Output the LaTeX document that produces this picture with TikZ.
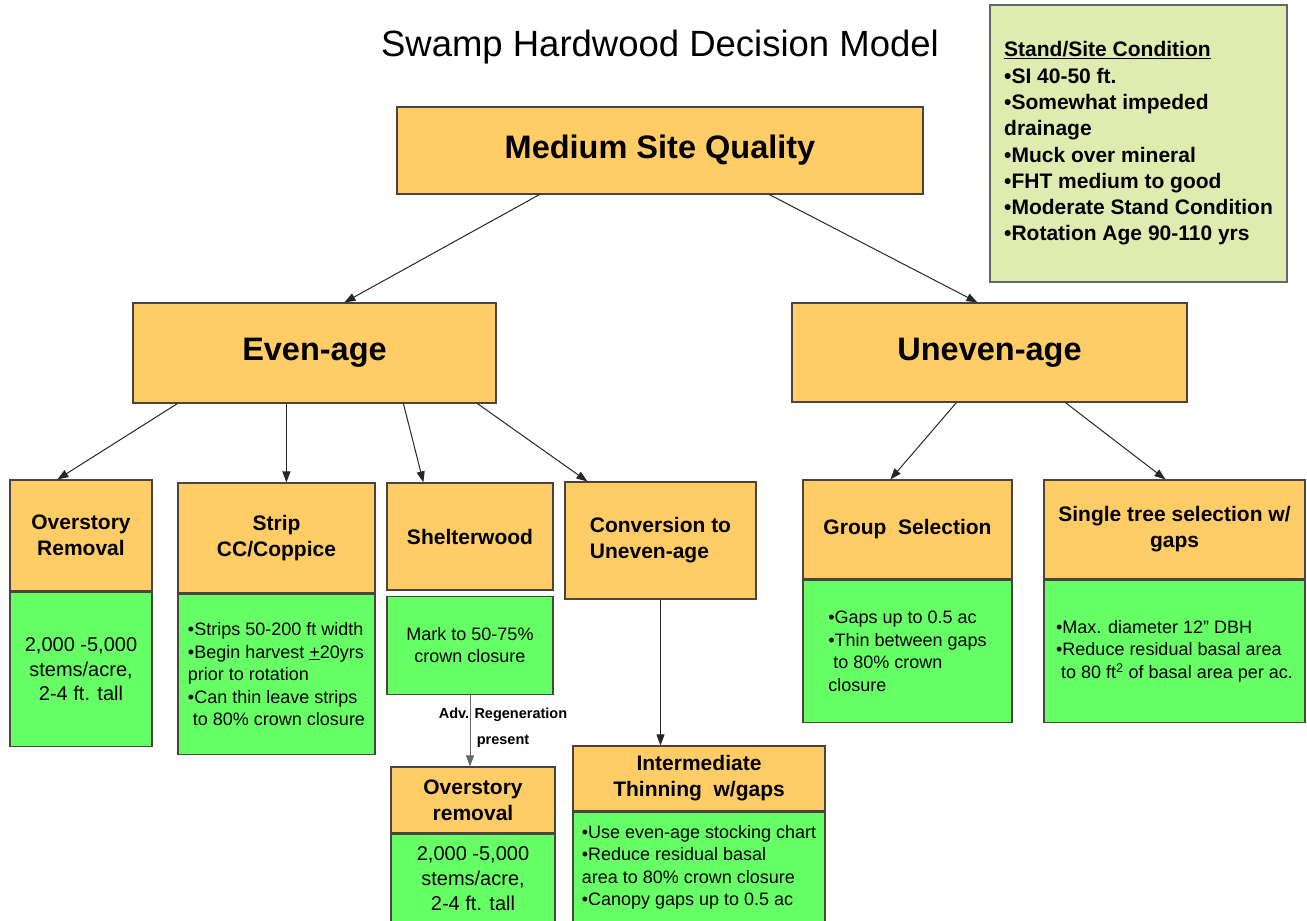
\documentclass[tikz,border=0pt]{standalone}
\usepackage{fontspec}
\setmainfont{Liberation Sans}
\usepackage{xcolor}
\usepackage{tikz}
\usetikzlibrary{arrows.meta}
\definecolor{boxorange}{HTML}{FFCC66}
\definecolor{boxgreen}{HTML}{66FF66}
\definecolor{boxpale}{HTML}{E0EBAF}
\definecolor{boxline}{HTML}{4A4440}

\begin{document}
\begin{tikzpicture}[x=1pt, y=-1pt,
        hdr/.style={draw=boxline, line width=1.2pt, fill=boxorange, inner sep=4pt, align=center,
            font=\bfseries\fontsize{21}{26}\selectfont},
        big/.style={hdr, font=\bfseries\fontsize{32.5}{38}\selectfont},
        note/.style={draw=boxline, line width=1.2pt, fill=boxgreen, inner sep=4pt, align=left,
            anchor=north, font=\fontsize{18}{22.5}\selectfont},
        arr/.style={-{Triangle[length=11pt, width=8pt]}, line width=1pt, black!85}]
            \useasboundingbox (0,0) rectangle (1307,921);
            \node[font=\fontsize{36.5}{40}\selectfont] (title) at (660,47) {Swamp Hardwood Decision Model};
            \node[draw=black!60, line width=1.2pt, fill=boxpale, minimum width=297, minimum height=277,
                align=left, font=\bfseries\fontsize{21}{26.3}\selectfont] (stand) at (1138.5,143.5)
                {\underline{Stand/Site Condition}\\ •SI 40-50 ft.\\ •Somewhat impeded\\ drainage\\
                 •Muck over mineral\\ •FHT medium to good\\ •Moderate Stand Condition\\ •Rotation Age 90-110 yrs};
            \node[big, minimum width=526, minimum height=87] (msq) at (660,150.5) {Medium Site Quality};
            \node[big, minimum width=363, minimum height=100] (even) at (314.5,353) {Even-age};
            \node[big, minimum width=395, minimum height=99] (uneven) at (989.5,352.5) {Uneven-age};

            \node[hdr, minimum width=142, minimum height=111] (ovr) at (81,535.5) {Overstory\\Removal};
            \node[note, minimum width=142, minimum height=154, align=center, font=\fontsize{20}{24.5}\selectfont]
                (ovrN) at (ovr.south) {2,000 -5,000\\stems/acre,\\ 2-4 ft. tall};
            \node[hdr, minimum width=197, minimum height=110] (strip) at (276.5,538) {Strip\\CC/Coppice};
            \node[note, minimum width=197, minimum height=160] (stripN) at (strip.south)
                {•Strips 50-200 ft width\\ •Begin harvest \underline{+}20yrs\\ prior to rotation\\
                 •Can thin leave strips\\ \ to 80\% crown closure};
            \node[hdr, minimum width=166, minimum height=107] (shelter) at (470,536.5) {Shelterwood};
            \node[note, minimum width=166, minimum height=98, align=center] (shelterN) at ([yshift=-5]shelter.south)
                {Mark to 50-75\%\\ crown closure};
            \node[hdr, minimum width=191, minimum height=117, align=left] (conv) at (660.5,540.5) {Conversion to\\Uneven-age};
            \node[hdr, minimum width=209, minimum height=99] (group) at (907.5,529.5) {Group~ Selection};
            \node[note, minimum width=209, minimum height=142] (groupN) at (group.south)
                {•Gaps up to 0.5 ac\\ •Thin between gaps\\ \ to 80\% crown\\ closure};
            \node[hdr, minimum width=261, minimum height=99] (single) at (1174.5,529.5) {Single tree selection w/\\gaps};
            \node[note, minimum width=261, minimum height=142] (singleN) at (single.south)
                {•Max. diameter 12'' DBH\\ •Reduce residual basal area\\ \ to 80 ft\textsuperscript{2} of basal area per ac.};

            \node[hdr, minimum width=164, minimum height=66] (ovr2) at (473,800) {Overstory\\removal};
            \node[note, minimum width=164, minimum height=88, align=center, font=\fontsize{20}{25}\selectfont]
                (ovr2N) at (ovr2.south) {2,000 -5,000\\stems/acre,\\ 2-4 ft. tall};
            \node[hdr, minimum width=252, minimum height=65] (thin) at (699,778.5) {Intermediate\\Thinning~ w/gaps};
            \node[note, minimum width=252, minimum height=110] (thinN) at (thin.south)
                {•Use even-age stocking chart\\ •Reduce residual basal\\ area to 80\% crown closure\\
                 •Canopy gaps up to 0.5 ac};

            \draw[arr] ([xshift=143]msq.south west) -- ([xshift=212]even.north west);
            \draw[arr] ([xshift=373]msq.south west) -- ([xshift=186]uneven.north west);
            \foreach \a/\t/\b in {45/ovr/48, 154/strip/109, 271/shelter/37, 345/conv/23} {
                \draw[arr] ([xshift=\a]even.south west) -- ([xshift=\b]\t.north west);
            }
            \foreach \a/\t/\b in {165/group/88, 274/single/122} {
                \draw[arr] ([xshift=\a]uneven.south west) -- ([xshift=\b]\t.north west);
            }
            \draw[arr] (conv.south) -- (conv.south |- thin.north);
            \draw[arr, black!60] (shelterN.south) -- (shelterN.south |- ovr2.north)
                node[pos=0.46, xshift=33, align=center, black, font=\bfseries\fontsize{14.5}{26}\selectfont] (regen)
                {Adv. Regeneration\\present};
        \end{tikzpicture}
\end{document}
